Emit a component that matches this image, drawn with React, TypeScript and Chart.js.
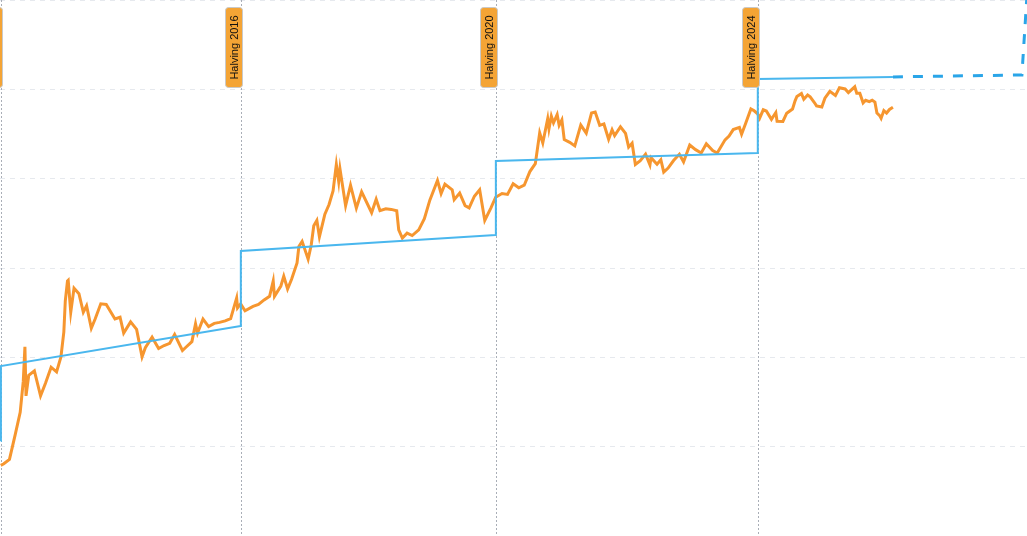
import React, { useEffect, useRef } from 'react';
import { Chart, registerables } from 'chart.js';

Chart.register(...registerables);

// ---- Data ----
const priceDates: string[] = [
  '2012-11-28','2012-12-15','2013-01-15','2013-02-15','2013-03-15','2013-04-01','2013-04-10','2013-04-16','2013-05-01','2013-06-01',
  '2013-07-05','2013-08-01','2013-09-01','2013-10-01','2013-10-25','2013-11-10','2013-11-18','2013-11-30','2013-12-04','2013-12-18',
  '2014-01-05','2014-02-01','2014-02-25','2014-03-15','2014-04-10','2014-05-01','2014-06-01','2014-07-01','2014-08-18','2014-09-15',
  '2014-10-05','2014-11-12','2014-12-15','2015-01-14','2015-02-01','2015-03-10','2015-04-15','2015-05-15','2015-06-15','2015-07-12',
  '2015-08-24','2015-09-15','2015-10-15','2015-11-04','2015-11-15','2015-12-15','2016-01-15','2016-02-15','2016-03-15','2016-04-15',
  '2016-05-15','2016-06-17','2016-06-22','2016-07-09','2016-08-02','2016-09-15','2016-10-15','2016-11-15','2016-12-15','2017-01-04',
  '2017-01-11','2017-02-15','2017-03-03','2017-03-24','2017-04-15','2017-05-15','2017-05-25','2017-06-12','2017-07-15','2017-08-01',
  '2017-08-15','2017-09-01','2017-09-15','2017-10-15','2017-11-07','2017-11-29','2017-12-17','2017-12-30','2018-01-06','2018-02-06',
  '2018-03-05','2018-04-06','2018-05-05','2018-06-29','2018-07-24','2018-08-14','2018-09-15','2018-10-15','2018-11-14','2018-11-25',
  '2018-12-15','2019-01-10','2019-02-07','2019-03-15','2019-04-15','2019-05-15','2019-06-26','2019-07-16','2019-08-06','2019-09-15',
  '2019-09-26','2019-10-26','2019-11-25','2019-12-17','2020-01-15','2020-02-13','2020-03-12','2020-04-15','2020-05-11','2020-06-15',
  '2020-07-15','2020-08-15','2020-09-15','2020-10-15','2020-11-15','2020-12-15','2021-01-08','2021-01-25','2021-02-21','2021-02-28',
  '2021-03-13','2021-03-25','2021-04-14','2021-04-25','2021-05-10','2021-05-23','2021-06-22','2021-07-20','2021-08-22','2021-09-21',
  '2021-10-20','2021-11-09','2021-12-04','2021-12-27','2022-01-22','2022-02-10','2022-02-24','2022-03-28','2022-04-25','2022-05-12',
  '2022-05-31','2022-06-18','2022-07-15','2022-08-13','2022-09-06','2022-09-12','2022-10-15','2022-11-05','2022-11-21','2022-12-15',
  '2023-01-14','2023-02-15','2023-03-10','2023-04-13','2023-05-15','2023-06-15','2023-07-13','2023-08-17','2023-09-11','2023-10-24',
  '2023-11-15','2023-12-08','2024-01-11','2024-01-23','2024-02-15','2024-03-14','2024-04-01','2024-04-20','2024-05-01','2024-05-21',
  '2024-06-07','2024-07-05','2024-07-29','2024-08-05','2024-09-06','2024-09-27','2024-10-29','2024-11-12','2024-11-22','2024-12-17',
  '2024-12-30','2025-01-20','2025-02-03','2025-02-27','2025-03-10','2025-04-08','2025-04-25','2025-05-22','2025-06-22','2025-07-14',
  '2025-08-14','2025-09-01','2025-10-06','2025-10-17','2025-11-03','2025-11-21','2025-12-05','2025-12-25','2026-01-10','2026-01-25',
  '2026-02-05','2026-02-20','2026-02-28','2026-03-15','2026-03-30','2026-04-15','2026-05-04'
];
const priceValues: number[] = [
  13, 13.5, 15, 27, 47, 100, 230, 70, 115, 128,
  70, 95, 140, 125, 180, 330, 700, 1130, 1150, 530,
  950, 830, 530, 620, 360, 450, 650, 640, 450, 470,
  320, 420, 350, 180, 225, 290, 220, 237, 250, 310,
  210, 230, 260, 400, 320, 450, 375, 405, 415, 430,
  455, 750, 590, 650, 550, 610, 640, 715, 780, 1130,
  780, 1000, 1270, 930, 1180, 1750, 2600, 2950, 1920, 2700,
  4300, 4900, 3300, 5700, 7200, 10000, 19000, 12600, 17100, 7000,
  11500, 6600, 9800, 5900, 8200, 6200, 6500, 6400, 6200, 3900,
  3200, 3600, 3400, 3900, 5100, 8000, 12900, 9400, 11800, 10300,
  8100, 9500, 7000, 6650, 8800, 10300, 4900, 6650, 8600, 9400,
  9200, 11900, 10800, 11500, 16000, 19400, 40800, 32000, 57500, 45000,
  61200, 52000, 63500, 49000, 56000, 34700, 32500, 29800, 49300, 40600,
  66000, 67500, 49000, 50700, 35000, 44000, 38300, 47400, 40400, 28900,
  31800, 19000, 20800, 24400, 18800, 22400, 19100, 21300, 15800, 17400,
  20900, 24300, 20200, 30400, 27200, 25100, 31400, 26600, 25100, 34500,
  37800, 44200, 46600, 39500, 51800, 73000, 69700, 64900, 58300, 71400,
  69300, 56700, 66800, 54000, 53900, 65800, 72700, 88700, 98500, 106100,
  92300, 102000, 97600, 84700, 78500, 76300, 94600, 111600, 100900, 122000,
  118300, 108500, 124700, 106500, 106500, 84500, 90000, 87000, 90000, 86000,
  66000, 62000, 58000, 70000, 66000, 72000, 76000
];

const modelDates: string[] = [
  '2012-11-28','2012-11-29','2016-07-09','2016-07-10','2020-05-11','2020-05-12','2024-04-20','2024-04-21','2026-05-04'
];
const modelValues: number[] = [23.4, 144, 379, 2336, 3442, 20700, 25100, 151000, 158500];

const projectionDates: string[] = ['2026-05-04', '2028-04-12', '2028-05-10'];
const projectionValues: number[] = [158500, 166000, 1150000];

const halvingDates: string[] = ['2012-11-28', '2016-07-09', '2020-05-11', '2024-04-20'];
const halvingLabels: string[] = ['Halving 2012', 'Halving 2016', 'Halving 2020', 'Halving 2024'];

const xRange: string[] = ['2012-11-24T00:00:00Z', '2028-05-10T00:00:00Z'];
const yRange: number[] = [2.35, 1020000];
const yGridValues: number[] = [2.35, 20.45, 177.9, 1548, 13470, 117230, 1020000];

const ts = (d: string): number => Date.parse(d.length === 10 ? d + 'T00:00:00Z' : d);
const toPoints = (dates: string[], values: number[]) => dates.map((d, i) => ({ x: ts(d), y: values[i] }));

const halvingPlugin = {
  id: 'halvingMarkers',
  beforeDatasetsDraw(chart: any) {
    const { ctx, chartArea, scales } = chart;
    ctx.save();
    ctx.strokeStyle = 'rgba(160,165,175,0.9)';
    ctx.lineWidth = 1;
    ctx.setLineDash([2, 2]);
    halvingDates.forEach((d) => {
      const x = Math.round(scales.x.getPixelForValue(ts(d))) + 0.5;
      ctx.beginPath();
      ctx.moveTo(x, chartArea.top);
      ctx.lineTo(x, chartArea.bottom);
      ctx.stroke();
    });
    ctx.restore();
  },
  afterDatasetsDraw(chart: any) {
    const { ctx, scales } = chart;
    halvingDates.forEach((d, i) => {
      ctx.save();
      const x = Math.round(scales.x.getPixelForValue(ts(d))) + 0.5;
      const w = 17;
      const h = 80;
      const right = x + 1;
      const left = right - w;
      const top = 7.5;
      ctx.beginPath();
      if ((ctx as any).roundRect) {
        (ctx as any).roundRect(left, top, w, h, 3);
      } else {
        ctx.rect(left, top, w, h);
      }
      ctx.fillStyle = '#f4a435';
      ctx.fill();
      ctx.strokeStyle = '#c9c9c9';
      ctx.lineWidth = 1;
      ctx.stroke();
      ctx.translate(left + w / 2, top + h / 2);
      ctx.rotate(-Math.PI / 2);
      ctx.fillStyle = '#111';
      ctx.font = '11px "Liberation Sans", Arial, sans-serif';
      ctx.textAlign = 'center';
      ctx.textBaseline = 'middle';
      ctx.fillText(halvingLabels[i], 0, 0.5);
      ctx.restore();
    });
  },
};

export default function App() {
  const canvasRef = useRef<HTMLCanvasElement | null>(null);

  useEffect(() => {
    document.body.style.margin = '0';
    const canvas = canvasRef.current;
    if (!canvas) return;
    const chart = new Chart(canvas, {
      type: 'line',
      data: {
        datasets: [
          {
            label: 'Model',
            data: toPoints(modelDates, modelValues),
            borderColor: '#4ab7ee',
            borderWidth: 2,
            pointRadius: 0,
            tension: 0,
          },
          {
            label: 'Projection',
            data: toPoints(projectionDates, projectionValues),
            borderColor: '#2aa5e8',
            borderWidth: 3,
            borderDash: [10, 10],
            pointRadius: 0,
            tension: 0,
          },
          {
            label: 'Price',
            data: toPoints(priceDates, priceValues),
            borderColor: '#f6962f',
            borderWidth: 3,
            pointRadius: 0,
            tension: 0,
          },
        ],
      },
      options: {
        animation: false,
        responsive: true,
        maintainAspectRatio: false,
        layout: { padding: 0 },
        plugins: { legend: { display: false }, tooltip: { enabled: false } },
        scales: {
          x: {
            type: 'linear',
            display: false,
            min: ts(xRange[0]),
            max: ts(xRange[1]),
          },
          y: {
            type: 'logarithmic',
            min: yRange[0],
            max: yRange[1],
            afterBuildTicks: (axis: any) => {
              axis.ticks = yGridValues.map((v) => ({ value: v }));
            },
            ticks: { display: false },
            border: { display: false, dash: [5, 5] },
            grid: {
              drawTicks: false,
              tickLength: 0,
              color: '#e6e9ee',
              lineWidth: 1,
            },
          },
        },
      },
      plugins: [halvingPlugin],
    } as any);
    return () => chart.destroy();
  }, []);

  return (
    <div style={{ position: 'fixed', left: 0, top: 0, width: 1027, height: 536 }}>
      <canvas ref={canvasRef} />
    </div>
  );
}
